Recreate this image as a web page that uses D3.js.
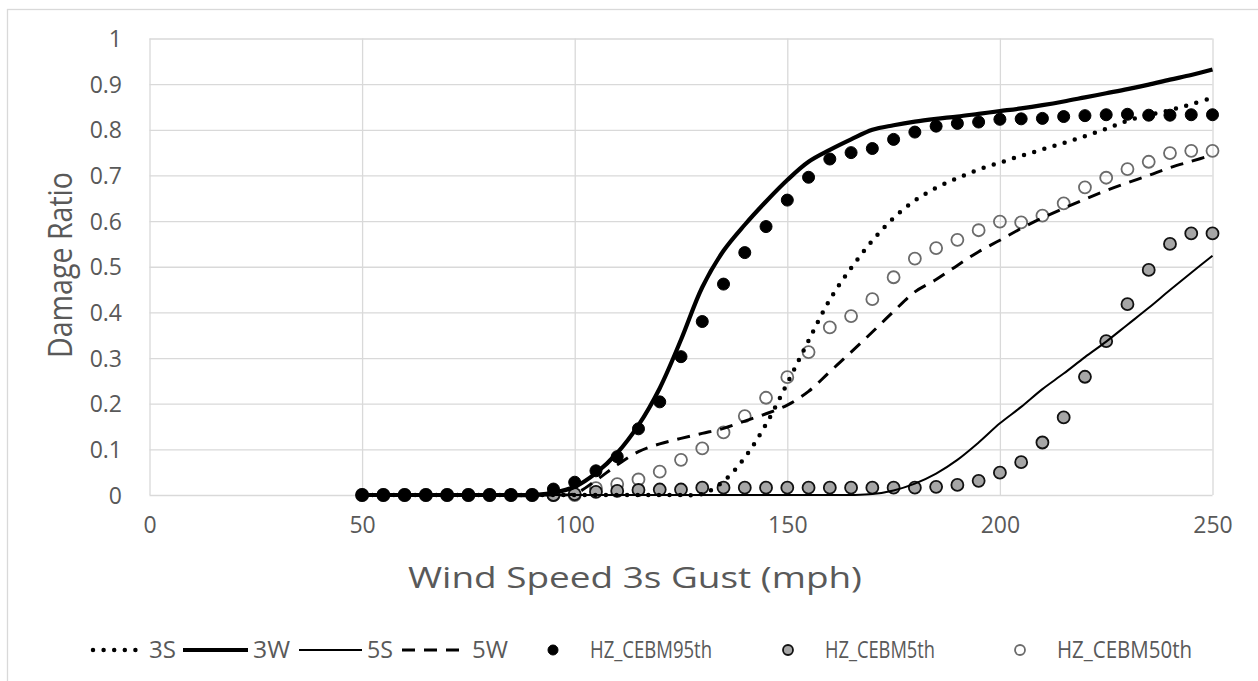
<!DOCTYPE html>
<html><head><meta charset="utf-8">
<script src="https://cdn.jsdelivr.net/npm/d3@7"></script>
<style>
body{margin:0;background:#fff}
text{font-family:"Open Sans","Noto Sans",sans-serif}
</style>
</head><body>
<svg id="chart" width="1258" height="681"></svg>
<script>
// ---- data ----
const windSpeed = [50,55,60,65,70,75,80,85,90,95,100,105,110,115,120,125,130,135,140,145,150,155,160,165,170,175,180,185,190,195,200,205,210,215,220,225,230,235,240,245,250];
const s3S = [0,0,0,0,0,0,0,0,0,0,0,0,0,0,0,0,0.002,0.03,0.082,0.155,0.245,0.338,0.428,0.497,0.557,0.607,0.645,0.673,0.694,0.713,0.728,0.743,0.757,0.771,0.786,0.802,0.82,0.832,0.843,0.856,0.87];
const s3W = [0,0,0,0,0,0,0,0,0,0.005,0.018,0.048,0.092,0.153,0.234,0.34,0.455,0.535,0.592,0.643,0.69,0.73,0.756,0.779,0.8,0.81,0.818,0.824,0.829,0.835,0.841,0.847,0.854,0.862,0.871,0.88,0.889,0.899,0.91,0.92,0.932];
const s5S = [0,0,0,0,0,0,0,0,0,0,0,0,0,0,0,0,0,0,0,0,0,0,0,0,0.002,0.01,0.025,0.047,0.077,0.115,0.157,0.193,0.232,0.266,0.302,0.336,0.373,0.41,0.449,0.487,0.524];
const s5W = [0,0,0,0,0,0,0,0,0,0,0.003,0.032,0.066,0.095,0.112,0.124,0.135,0.146,0.162,0.178,0.197,0.227,0.27,0.313,0.357,0.402,0.445,0.472,0.503,0.533,0.558,0.584,0.607,0.628,0.648,0.667,0.684,0.7,0.717,0.731,0.745];
const hz95 = [0,0,0,0,0,0,0,0,0,0.013,0.028,0.053,0.084,0.145,0.204,0.303,0.38,0.462,0.531,0.588,0.646,0.696,0.736,0.75,0.759,0.779,0.795,0.808,0.814,0.817,0.823,0.824,0.825,0.829,0.831,0.833,0.834,0.832,0.832,0.833,0.833];
const hz5 = [0,0,0,0,0,0,0,0,0,0,0.002,0.007,0.009,0.011,0.012,0.012,0.016,0.016,0.016,0.016,0.016,0.016,0.016,0.016,0.016,0.016,0.016,0.018,0.022,0.031,0.049,0.072,0.115,0.17,0.259,0.337,0.418,0.493,0.55,0.573,0.573];
const hz50 = [0,0,0,0,0,0,0,0,0,0,0,0.015,0.024,0.034,0.051,0.077,0.102,0.137,0.173,0.213,0.258,0.313,0.367,0.392,0.429,0.477,0.518,0.541,0.559,0.58,0.599,0.597,0.612,0.639,0.674,0.695,0.714,0.73,0.749,0.754,0.754];
const xTicks = [0,50,100,150,200,250];
const yTicks = [0,0.1,0.2,0.3,0.4,0.5,0.6,0.7,0.8,0.9,1];
const xTitle = "Wind Speed 3s Gust (mph)";
const yTitle = "Damage Ratio";

const lineSeries = [
  {name:"3S", values:s3S, width:4.5, dash:"0,10.6", cap:"round"},
  {name:"3W", values:s3W, width:4.2, dash:null, cap:"butt"},
  {name:"5S", values:s5S, width:2, dash:null, cap:"butt"},
  {name:"5W", values:s5W, width:3, dash:"13,9", cap:"butt"}
];
const markerSeries = [
  {name:"HZ_CEBM95th", values:hz95, fill:"#000", stroke:"#000", sw:1},
  {name:"HZ_CEBM5th", values:hz5, fill:"#a6a6a6", stroke:"#111", sw:1.8},
  {name:"HZ_CEBM50th", values:hz50, fill:"none", stroke:"#6b6b6b", sw:1.8}
];
const markerDrawOrder = [2,1,0];

const svg = d3.select("#chart");
svg.append("rect").attr("width",1258).attr("height",681).attr("fill","#fff");
svg.append("rect").attr("x",7.5).attr("y",9.5).attr("width",1270).attr("height",690)
  .attr("fill","none").attr("stroke","#d9d9d9").attr("stroke-width",1.3);

const x = d3.scaleLinear().domain([0,250]).range([149.5,1212.5]);
const y = d3.scaleLinear().domain([0,1]).range([495,38.5]);

// gridlines
const grid = svg.append("g");
grid.append("g").attr("transform","translate(149.5,0)")
  .call(d3.axisLeft(y).tickValues(yTicks).tickSize(-(1212.5-149.5)).tickFormat(""))
  .call(g=>{g.select(".domain").remove(); g.selectAll("line").attr("stroke","#d9d9d9").attr("stroke-width",1.3);});
grid.append("g").attr("transform","translate(0,495)")
  .call(d3.axisBottom(x).tickValues(xTicks).tickSize(-(495-38.5)).tickFormat(""))
  .call(g=>{g.select(".domain").remove(); g.selectAll("line").attr("stroke","#d9d9d9").attr("stroke-width",1.3);});

// tick labels
const yAx = svg.append("g").attr("transform","translate(122,0)")
  .call(d3.axisLeft(y).tickValues(yTicks).tickSize(0).tickPadding(0).tickFormat(d=>d3.format("")(+d.toFixed(1))));
yAx.select(".domain").remove();
yAx.selectAll("text").attr("font-size",23).attr("fill","#595959").attr("font-family","Open Sans").attr("dy","0.35em");
const xAx = svg.append("g").attr("transform","translate(0,517)")
  .call(d3.axisBottom(x).tickValues(xTicks).tickSize(0).tickPadding(0));
xAx.select(".domain").remove();
xAx.selectAll("text").attr("font-size",23).attr("fill","#595959").attr("font-family","Open Sans").attr("dy","0.71em");

// titles
svg.append("text").attr("x",635).attr("y",588).attr("text-anchor","middle")
  .attr("font-size",30).attr("fill","#595959")
  .attr("textLength",454).attr("lengthAdjust","spacingAndGlyphs").text(xTitle);
svg.append("text").attr("transform","translate(72,265) rotate(-90)").attr("text-anchor","middle")
  .attr("font-size",32).attr("fill","#595959")
  .attr("textLength",186).attr("lengthAdjust","spacingAndGlyphs").text(yTitle);

// markers
const mG = svg.append("g");
markerDrawOrder.forEach(k=>{
  const s = markerSeries[k];
  mG.append("g").selectAll("circle").data(windSpeed.map((w,i)=>[w,s.values[i]])).join("circle")
    .attr("cx",d=>x(d[0])).attr("cy",d=>y(d[1])).attr("r",6)
    .attr("fill",s.fill).attr("stroke",s.stroke).attr("stroke-width",s.sw);
});

// lines
const line = d3.line().x(d=>x(d[0])).y(d=>y(Math.max(0,d[1]))).curve(d3.curveCatmullRom.alpha(0.5));
lineSeries.forEach(s=>{
  svg.append("path").datum(windSpeed.map((w,i)=>[w,s.values[i]]))
    .attr("d",line).attr("fill","none").attr("stroke","#000")
    .attr("stroke-width",s.width).attr("stroke-dasharray",s.dash)
    .attr("stroke-linecap",s.cap).attr("stroke-linejoin","round");
});

// legend
const leg = svg.append("g");
const ly = 650;
const legLines = [
  {s:lineSeries[0], x1:93, x2:142, tx:149, tw:27},
  {s:lineSeries[1], x1:183, x2:248, tx:253, tw:37},
  {s:lineSeries[2], x1:299, x2:362, tx:367, tw:26},
  {s:lineSeries[3], x1:402, x2:465, tx:472, tw:36}
];
legLines.forEach(l=>{
  leg.append("line").attr("x1",l.x1).attr("x2",l.x2).attr("y1",ly).attr("y2",ly)
    .attr("stroke","#000").attr("stroke-width",l.s.width).attr("stroke-dasharray",l.s.dash)
    .attr("stroke-linecap",l.s.cap);
  leg.append("text").attr("x",l.tx).attr("y",ly).attr("dy","0.35em").attr("font-size",24)
    .attr("fill","#595959").attr("textLength",l.tw).attr("lengthAdjust","spacingAndGlyphs").text(l.s.name);
});
const legMarks = [
  {s:markerSeries[0], cx:553, tx:590, tw:122},
  {s:markerSeries[1], cx:788, tx:825, tw:110},
  {s:markerSeries[2], cx:1020, tx:1057, tw:135}
];
legMarks.forEach(l=>{
  leg.append("circle").attr("cx",l.cx).attr("cy",ly).attr("r",5)
    .attr("fill",l.s.fill).attr("stroke",l.s.stroke).attr("stroke-width",l.s.sw);
  leg.append("text").attr("x",l.tx).attr("y",ly).attr("dy","0.35em").attr("font-size",24)
    .attr("fill","#595959").attr("textLength",l.tw).attr("lengthAdjust","spacingAndGlyphs").text(l.s.name);
});
</script>
</body></html>
